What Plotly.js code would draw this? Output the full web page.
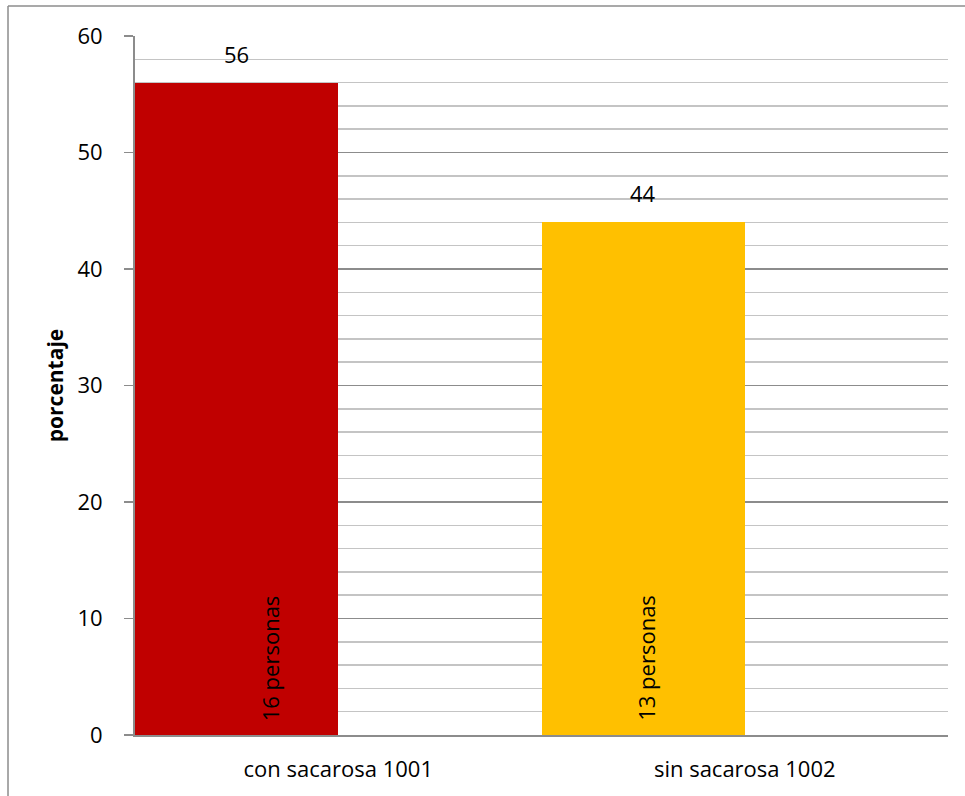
<!DOCTYPE html>
<html>
<head>
<meta charset="utf-8">
<script src="https://cdn.plot.ly/plotly-3.0.1.min.js"></script>
<style>
  html, body { margin: 0; padding: 0; background: #ffffff; }
  #chart { width: 965px; height: 796px; }
</style>
</head>
<body>
<div id="chart"></div>
<script>
// ---- data ----
const categories = ['con sacarosa 1001', 'sin sacarosa 1002'];
const porcentaje = [56, 44];
const personas = ['16 personas', '13 personas'];
const barColors = ['#C00000', '#FFC000'];
const yTickValues = [0, 10, 20, 30, 40, 50, 60];
const yAxisTitle = 'porcentaje';

// ---- style constants ----
const FONT = '"Open Sans", "Liberation Sans", sans-serif';
const FS = 22;
const valueShift = -101.6;            // value labels centred over bar (left half of category)
const personasShift = [-68, -99];     // rotated labels as placed in the original

const trace = {
  type: 'bar',
  x: categories,
  y: porcentaje,
  width: 0.5,
  offset: -0.5,
  marker: { color: barColors, line: { width: 0 } },
  hoverinfo: 'skip'
};

const annotations = [];
categories.forEach((c, i) => {
  annotations.push({
    x: c, y: porcentaje[i], xref: 'x', yref: 'y',
    text: String(porcentaje[i]),
    showarrow: false, yanchor: 'bottom', xanchor: 'center',
    xshift: valueShift, yshift: 12,
    font: { family: FONT, size: FS, color: '#000000' }
  });
  annotations.push({
    x: c, y: 0, xref: 'x', yref: 'y',
    text: personas[i],
    textangle: -90,
    showarrow: false, yanchor: 'bottom', xanchor: 'center',
    xshift: personasShift[i], yshift: 12,
    font: { family: FONT, size: FS, color: '#000000' }
  });
});

const frameColor = '#8c8c8c';
const layout = {
  width: 965,
  height: 796,
  margin: { l: 135, r: 17, t: 36, b: 61 },
  paper_bgcolor: '#ffffff',
  plot_bgcolor: '#ffffff',
  showlegend: false,
  font: { family: FONT, size: FS, color: '#000000' },
  bargap: 0,
  xaxis: {
    type: 'category',
    range: [-0.5, 1.5],
    showgrid: false,
    showline: true,
    linecolor: '#8c8c8c',
    linewidth: 2,
    ticks: '',
    zeroline: false,
    tickfont: { family: FONT, size: FS, color: '#000000' },
    ticklabelstandoff: 14,
    fixedrange: true
  },
  yaxis: {
    range: [0, 60],
    tickvals: yTickValues,
    ticktext: yTickValues.map(String),
    showline: true,
    linecolor: '#8c8c8c',
    linewidth: 2,
    ticks: 'outside',
    ticklen: 9,
    tickwidth: 1.5,
    tickcolor: '#8c8c8c',
    ticklabelstandoff: 17,
    showgrid: true,
    gridcolor: '#8c8c8c',
    gridwidth: 1.5,
    zeroline: false,
    minor: { dtick: 2, showgrid: true, gridcolor: '#c4c4c4', gridwidth: 1.5, ticks: '' },
    tickfont: { family: FONT, size: FS, color: '#000000' },
    title: {
      text: '<b>' + yAxisTitle + '</b>',
      font: { family: FONT, size: 21, color: '#000000' },
      standoff: 8
    },
    fixedrange: true
  },
  annotations: annotations,
  shapes: [
    { type: 'line', xref: 'paper', yref: 'paper', x0: -0.1562, x1: 1.2, y0: 1.0429, y1: 1.0429,
      line: { color: frameColor, width: 1.5 } },
    { type: 'line', xref: 'paper', yref: 'paper', x0: -0.1562, x1: -0.1562, y0: -0.2, y1: 1.0429,
      line: { color: frameColor, width: 1.5 } }
  ]
};

Plotly.newPlot('chart', [trace], layout, { displayModeBar: false, staticPlot: true });
</script>
</body>
</html>
